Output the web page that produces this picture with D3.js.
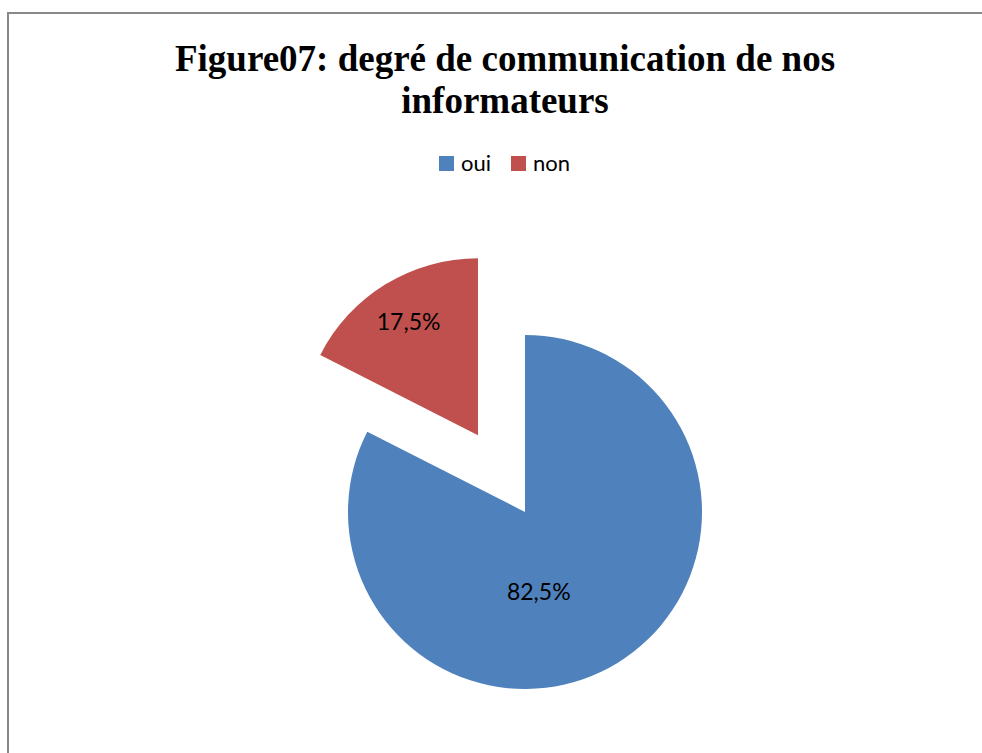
<!DOCTYPE html>
<html><head><meta charset="utf-8">
<script src="https://cdn.jsdelivr.net/npm/d3@7"></script>
<style>body{margin:0;background:#fff;}svg{display:block;}</style>
</head><body>
<svg id="c" width="982" height="753"></svg>
<script>
const categories = ["oui", "non"];
const values = [82.5, 17.5];
const labels = ["82,5%", "17,5%"];
const colors = ["#4F81BD", "#C0504D"];
const titleLines = ["Figure07: degré de communication de nos", "informateurs"];

const svg = d3.select("#c");
const W = 982, H = 753;

// frame
svg.append("path")
  .attr("d", `M8,${H+5} L8,13 L${W+5},13`)
  .attr("fill", "none").attr("stroke", "#888").attr("stroke-width", 2);

// title
svg.append("text").attr("x", 505).attr("y", 71)
  .attr("text-anchor", "middle")
  .attr("font-family", "Liberation Serif, Times New Roman, serif")
  .attr("font-weight", "bold").attr("font-size", 37)
  .selectAll("tspan").data(titleLines).join("tspan")
  .attr("x", 505).attr("dy", (d, i) => i === 0 ? 0 : 42).text(d => d);

// legend
const leg = svg.append("g").attr("font-family", "Lato, Carlito, Calibri, sans-serif").attr("font-size", 22);
const legX = [439, 511];
categories.forEach((c, i) => {
  leg.append("rect").attr("x", legX[i]).attr("y", 156).attr("width", 15).attr("height", 15).attr("fill", colors[i]);
  leg.append("text").attr("x", legX[i] + 22).attr("y", 171).attr("fill", "#000").text(c);
});

// pie
const cx = 525, cy = 512, r = 177, explode = [0, 90];
const pie = d3.pie().sort(null).value(d => d)
  .startAngle(0).endAngle(2 * Math.PI);
const arcs = pie(values);
const arc = d3.arc().innerRadius(0).outerRadius(r);
const labelRadius = [0.46 * r, 0.75 * r];
const labelAngleShift = [0.38, 0];

const g = svg.append("g").attr("transform", `translate(${cx},${cy})`);
arcs.forEach((a, i) => {
  const mid = (a.startAngle + a.endAngle) / 2;
  const [ox, oy] = d3.pointRadial(mid, explode[i]);
  const sg = g.append("g").attr("transform", `translate(${ox},${oy})`);
  sg.append("path").attr("d", arc(a)).attr("fill", colors[i]);
  const [lx, ly] = d3.pointRadial(mid + labelAngleShift[i], labelRadius[i]);
  sg.append("text").attr("x", lx).attr("y", ly).attr("dy", "0.35em")
    .attr("text-anchor", "middle")
    .attr("font-family", "Lato, Carlito, Calibri, sans-serif").attr("font-size", 23)
    .attr("fill", "#000").text(labels[i]);
});
</script>
</body></html>
